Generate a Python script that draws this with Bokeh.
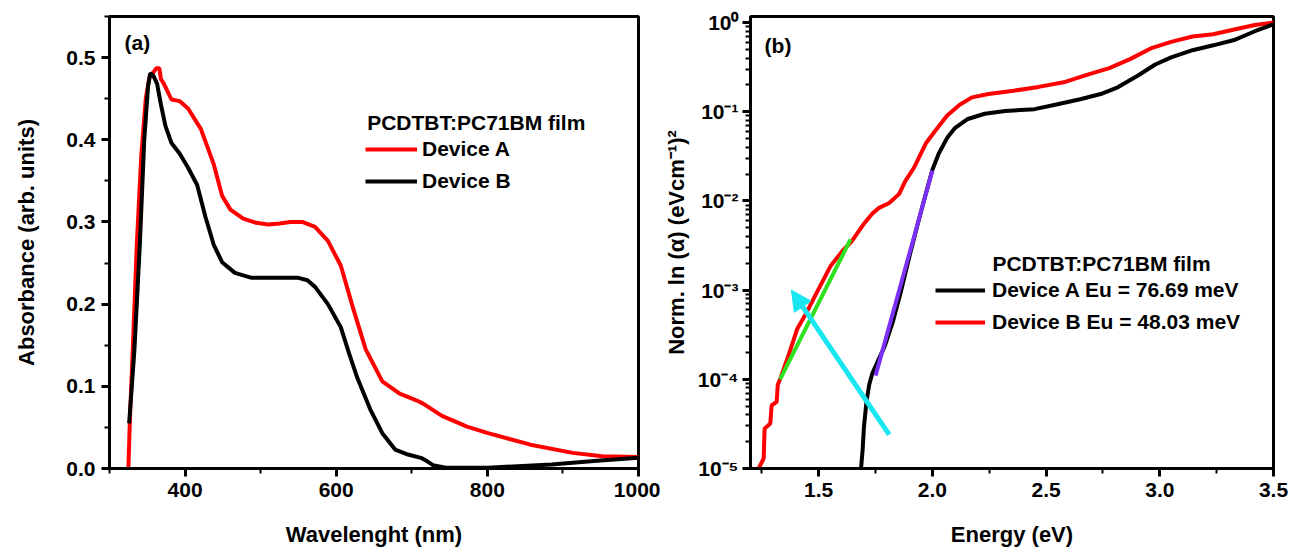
from bokeh.plotting import figure
from bokeh.layouts import row
from bokeh.models import (Range1d, SingleIntervalTicker, LogTicker, NumeralTickFormatter,
                          CustomJSTickFormatter, Legend, LegendItem, Label, Arrow, NormalHead)
from bokeh.embed import file_html
from bokeh.resources import INLINE

# ---------------- data: panel (a) ----------------
wl_a = [325, 327, 331, 336, 342, 348, 353, 358, 362, 366, 368, 372, 382, 393, 404, 421, 438,
        449, 460, 477, 494, 510, 525, 539, 555, 572, 589, 606, 622, 639, 661, 684, 706, 715,
        740, 773, 801, 857, 913, 952, 1000]
abs_a = [0.0, 0.06, 0.15, 0.27, 0.38, 0.45, 0.477, 0.482, 0.487, 0.487, 0.474, 0.468, 0.449,
         0.447, 0.438, 0.413, 0.37, 0.332, 0.315, 0.304, 0.299, 0.297, 0.298, 0.300, 0.300,
         0.294, 0.277, 0.247, 0.196, 0.145, 0.106, 0.091, 0.083, 0.079, 0.064, 0.051, 0.043,
         0.029, 0.019, 0.015, 0.014]
wl_b = [326, 333, 340, 346, 351, 354, 358, 363, 368, 374, 382, 393, 404, 416, 427, 438, 449,
        466, 488, 522, 550, 562, 572, 589, 606, 617, 628, 645, 661, 678, 695, 712, 720, 728,
        745, 801, 885, 941, 1000]
abs_b = [0.055, 0.145, 0.27, 0.40, 0.465, 0.481, 0.478, 0.468, 0.443, 0.417, 0.396, 0.383,
         0.366, 0.345, 0.306, 0.272, 0.251, 0.238, 0.232, 0.232, 0.232, 0.229, 0.221, 0.200,
         0.172, 0.14, 0.11, 0.072, 0.043, 0.023, 0.017, 0.013, 0.009, 0.004, 0.001, 0.001,
         0.005, 0.009, 0.013]

# ---------------- data: panel (b) ----------------
en_b_red = [1.236, 1.258, 1.262, 1.287, 1.293, 1.315, 1.32, 1.333, 1.37, 1.406, 1.443, 1.497,
            1.552, 1.607, 1.644, 1.70, 1.735, 1.763, 1.81, 1.854, 1.88, 1.918, 1.973, 2.01,
            2.065, 2.12, 2.174, 2.247, 2.357, 2.467, 2.577, 2.686, 2.778, 2.869, 2.96, 3.05,
            3.144, 3.235, 3.327, 3.418, 3.5]
alpha_b_red = [1.0e-5, 1.3e-5, 2.8e-5, 3.2e-5, 5.1e-5, 5.6e-5, 8.7e-5, 1.05e-4, 1.95e-4,
               3.7e-4, 5.4e-4, 1.0e-3, 1.86e-3, 2.8e-3, 3.5e-3, 5.6e-3, 7.2e-3, 8.3e-3,
               9.5e-3, 1.2e-2, 1.66e-2, 2.34e-2, 4.5e-2, 6.0e-2, 9.1e-2, 0.12, 0.145, 0.158,
               0.172, 0.19, 0.214, 0.263, 0.309, 0.389, 0.513, 0.608, 0.697, 0.741, 0.836,
               0.94, 1.0]
en_a_black = [1.686, 1.693, 1.699, 1.71, 1.722, 1.735, 1.763, 1.79, 1.827, 1.863, 1.9, 1.936,
              1.973, 2.0, 2.028, 2.065, 2.1, 2.156, 2.23, 2.32, 2.449, 2.54, 2.65, 2.74,
              2.815, 2.906, 2.98, 3.05, 3.144, 3.235, 3.327, 3.418, 3.5]
alpha_a_black = [1.0e-5, 1.6e-5, 2.95e-5, 5.6e-5, 8.7e-5, 1.15e-4, 1.66e-4, 2.34e-4, 4.5e-4,
                 1.0e-3, 2.45e-3, 5.6e-3, 1.26e-2, 2.24e-2, 3.4e-2, 5.1e-2, 6.6e-2, 8.3e-2,
                 9.5e-2, 0.102, 0.107, 0.12, 0.138, 0.158, 0.188, 0.257, 0.339, 0.407, 0.49,
                 0.556, 0.637, 0.80, 0.955]
fit_b_x = [1.33, 1.64]
fit_b_y = [1.0e-4, 3.7e-3]
fit_a_x = [1.75, 2.0]
fit_a_y = [1.1e-4, 2.2e-2]
arrow_x = [1.81, 1.38]
arrow_y = [2.4e-5, 1.0e-3]

FONT = "Liberation Sans"
TICK_PX = "21px"
LABEL_PX = "22px"
LEG_PX = "21px"


def style_axis(ax, label_standoff, tick_standoff=6):
    ax.axis_line_width = 3
    ax.major_tick_line_width = 3
    ax.minor_tick_line_width = 2
    ax.major_tick_out = 8
    ax.major_tick_in = 0
    ax.minor_tick_out = 5
    ax.minor_tick_in = 0
    ax.major_label_text_font = FONT
    ax.major_label_text_font_style = "bold"
    ax.major_label_text_font_size = TICK_PX
    ax.major_label_text_color = "black"
    ax.axis_label_text_font = FONT
    ax.axis_label_text_font_style = "bold"
    ax.axis_label_text_font_size = LABEL_PX
    ax.axis_label_text_color = "black"
    ax.axis_label_standoff = label_standoff
    ax.major_label_standoff = tick_standoff


# ---------------- panel (a) ----------------
pa = figure(width=660, height=549, output_backend="svg", toolbar_location=None,
            x_range=Range1d(300, 1000), y_range=Range1d(0, 0.55),
            min_border_left=109, min_border_right=22, min_border_top=16, min_border_bottom=81)
pa.grid.visible = False
pa.outline_line_color = "black"
pa.outline_line_width = 3
pa.outline_line_alpha = 1
pa.background_fill_color = "white"
pa.border_fill_color = "white"

pa.xaxis.ticker = SingleIntervalTicker(interval=200, num_minor_ticks=2)
pa.yaxis.ticker = SingleIntervalTicker(interval=0.1, num_minor_ticks=2)
pa.yaxis.formatter = NumeralTickFormatter(format="0.0")
pa.xaxis.axis_label = "Wavelenght (nm)"
pa.yaxis.axis_label = "Absorbance (arb. units)"
style_axis(pa.xaxis[0], 22)
style_axis(pa.yaxis[0], 24)

ra = pa.line(wl_a, abs_a, line_color="#ff0000", line_width=4)
rb = pa.line(wl_b, abs_b, line_color="black", line_width=4)

leg_a = Legend(items=[LegendItem(label="Device A", renderers=[ra]),
                      LegendItem(label="Device B", renderers=[rb])],
               location=(256, 275), orientation="vertical",
               background_fill_alpha=0, border_line_alpha=0, padding=0, margin=0,
               spacing=8, glyph_width=52, glyph_height=22, label_height=22, label_standoff=5,
               label_text_font=FONT, label_text_font_style="bold", label_text_font_size=LEG_PX,
               label_text_color="black")
pa.add_layout(leg_a, "center")
pa.add_layout(Label(x=641, y=0.421, text="PCDTBT:PC71BM film", text_font=FONT,
                    text_font_style="bold", text_font_size=LEG_PX, text_baseline="middle",
                    text_color="black"))
pa.add_layout(Label(x=320, y=0.518, text="(a)", text_font=FONT, text_font_style="bold",
                    text_font_size="21px", text_baseline="middle", text_color="black"))

# ---------------- panel (b) ----------------
pb = figure(width=631, height=549, output_backend="svg", toolbar_location=None,
            x_range=Range1d(1.2, 3.5), y_range=Range1d(1e-5, 1.17), y_axis_type="log",
            min_border_left=90, min_border_right=18, min_border_top=16, min_border_bottom=81)
pb.grid.visible = False
pb.outline_line_color = "black"
pb.outline_line_width = 3
pb.outline_line_alpha = 1
pb.background_fill_color = "white"
pb.border_fill_color = "white"

pb.xaxis.ticker = SingleIntervalTicker(interval=0.5, num_minor_ticks=2)
pb.xaxis.formatter = NumeralTickFormatter(format="0.0")
pb.yaxis.ticker = LogTicker(num_minor_ticks=10)
pb.yaxis.formatter = CustomJSTickFormatter(code="""
    const sup = {"-": "\u207b", "0": "\u2070", "1": "\u00b9", "2": "\u00b2", "3": "\u00b3",
                 "4": "\u2074", "5": "\u2075", "6": "\u2076", "7": "\u2077", "8": "\u2078", "9": "\u2079"};
    const e = Math.round(Math.log10(tick));
    return "10" + String(e).split("").map(c => sup[c]).join("");
""")
pb.xaxis.axis_label = "Energy (eV)"
pb.yaxis.axis_label = "Norm. ln (\u03b1) (eVcm\u207b\u00b9)\u00b2"
style_axis(pb.xaxis[0], 22)
style_axis(pb.yaxis[0], 6, 4)

rr = pb.line(en_b_red, alpha_b_red, line_color="#ff0000", line_width=4)
rk = pb.line(en_a_black, alpha_a_black, line_color="black", line_width=4)
pb.line(fit_b_x, fit_b_y, line_color="#2ee01e", line_width=4)
pb.line(fit_a_x, fit_a_y, line_color="#7b2ff7", line_width=4)
pb.add_layout(Arrow(end=NormalHead(size=20, fill_color="#18e7f2", line_color="#18e7f2"),
                    x_start=arrow_x[0], y_start=arrow_y[0], x_end=arrow_x[1], y_end=arrow_y[1],
                    line_color="#18e7f2", line_width=5))

leg_b = Legend(items=[LegendItem(label="Device A Eu = 76.69 meV", renderers=[rk]),
                      LegendItem(label="Device B Eu = 48.03 meV", renderers=[rr])],
               location=(185, 134), orientation="vertical",
               background_fill_alpha=0, border_line_alpha=0, padding=0, margin=0,
               spacing=8, glyph_width=50, glyph_height=22, label_height=22, label_standoff=7,
               label_text_font=FONT, label_text_font_style="bold", label_text_font_size=LEG_PX,
               label_text_color="black")
pb.add_layout(leg_b, "center")
pb.add_layout(Label(x=2.264, y=2.0e-3, text="PCDTBT:PC71BM film", text_font=FONT,
                    text_font_style="bold", text_font_size=LEG_PX, text_baseline="middle",
                    text_color="black"))
pb.add_layout(Label(x=1.262, y=0.55, text="(b)", text_font=FONT, text_font_style="bold",
                    text_font_size="21px", text_baseline="middle", text_color="black"))

layout = row(pa, pb, spacing=0)
open("out.html", "w").write(file_html(layout, INLINE))
